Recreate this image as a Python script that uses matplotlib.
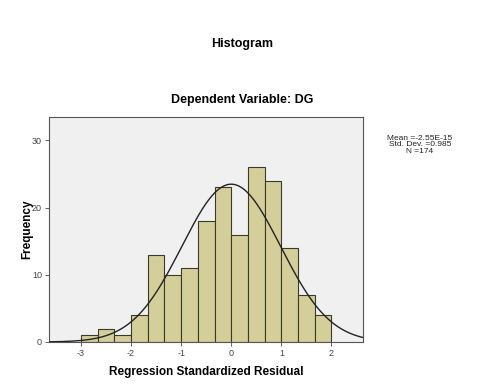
import numpy as np
import matplotlib
matplotlib.use("Agg")
import matplotlib.pyplot as plt

plt.rcParams["font.family"] = ["Liberation Sans", "DejaVu Sans"]
plt.rcParams["axes.unicode_minus"] = False

# ── Datos ─────────────────────────────────────────────────────────────────────
bin_edges = np.arange(-3.0, 2.0 + 1e-9, 1 / 3)
counts    = [1, 2, 1, 4, 13, 10, 11, 18, 23, 16, 26, 24, 14, 7, 4]
mean, sd, n = -2.55e-15, 0.985, 174
x_ticks   = [-3, -2, -1, 0, 1, 2]
y_ticks   = [0, 10, 20, 30]

fig = plt.figure(figsize=(4.84, 3.88), dpi=100)
ax = fig.add_axes([0.101, 0.1186, 0.649, 0.58])
ax.set_facecolor("#f0f0f0")

widths = np.diff(bin_edges)
ax.bar(bin_edges[:-1], counts, width=widths, align="edge",
       color="#d4cf9a", edgecolor="#3a3a2a", linewidth=0.8, zorder=2)

# curva normal escalada a frecuencias
xs = np.linspace(-3.64, 2.63, 400)
bw = widths[0]
ys = n * bw * np.exp(-0.5 * ((xs - mean) / sd) ** 2) / (sd * np.sqrt(2 * np.pi))
ax.plot(xs, ys, color="#222222", linewidth=1.0, zorder=3)

ax.set_xlim(-3.64, 2.63)
ax.set_ylim(0, 33.5)
ax.set_xticks(x_ticks)
ax.set_yticks(y_ticks)
ax.tick_params(labelsize=6.5, length=3, width=0.6, colors="#444444", pad=2)
for s in ax.spines.values():
    s.set_color("#555555")
    s.set_linewidth(0.8)

ax.set_xlabel("Regression Standardized Residual", fontsize=8.5, fontweight="bold", labelpad=6)
ax.set_ylabel("Frequency", fontsize=8.5, fontweight="bold", labelpad=-1)
fig.text(0.5, 1 - 44 / 388, "Histogram", ha="center", va="center",
         fontsize=9, fontweight="bold")
fig.text(0.5, 1 - 100 / 388, "Dependent Variable: DG", ha="center", va="center",
         fontsize=9, fontweight="bold")
fig.text(420 / 484, 1 - 145 / 388,
         f"Mean =-2.55E-15\nStd. Dev. ={sd}\nN ={n}",
         ha="center", va="center", fontsize=6, linespacing=0.95, color="#222222")

plt.savefig("out.png", dpi=100)
